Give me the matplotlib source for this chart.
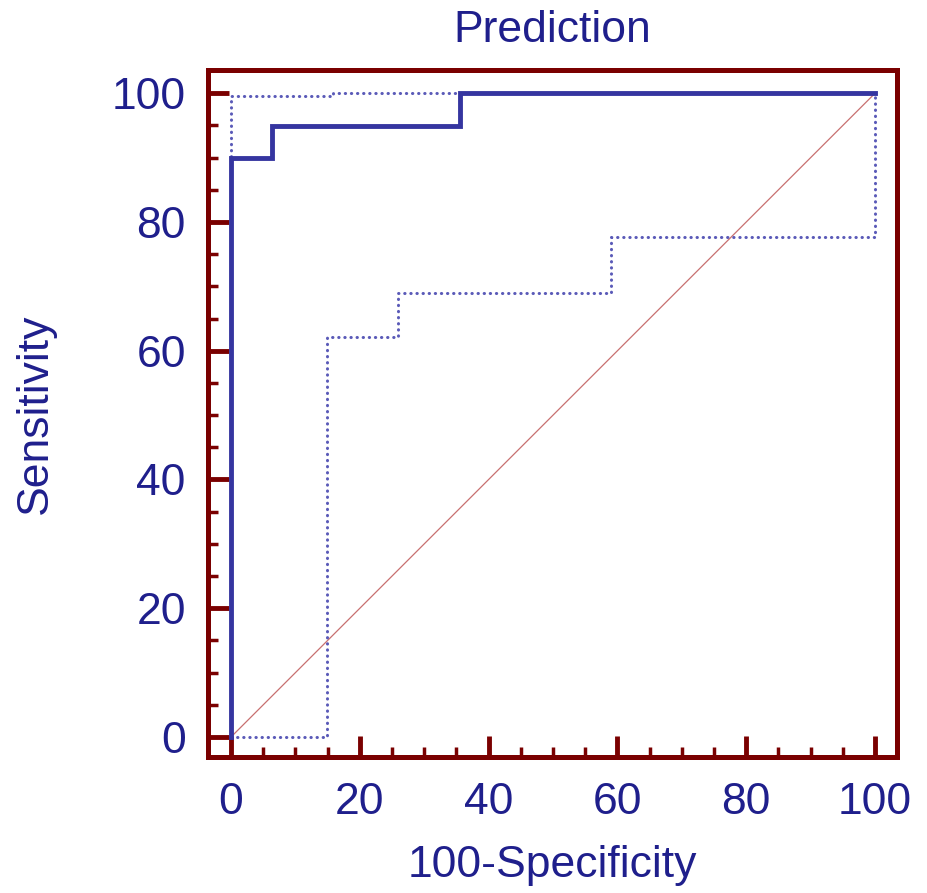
import numpy as np
import matplotlib
matplotlib.use("Agg")
import matplotlib.pyplot as plt
from matplotlib.ticker import MultipleLocator

plt.rcParams['font.family'] = ['Liberation Sans', 'DejaVu Sans']

# ROC curve (100-specificity, sensitivity)
roc_x = [0, 0, 6.3, 6.3, 35.5, 35.5, 100]
roc_y = [0, 89.9, 89.9, 94.9, 94.9, 100, 100]

# upper confidence bound
upper_x = [0, 0, 15.8, 15.8, 100]
upper_y = [0, 99.6, 99.6, 100, 100]

# lower confidence bound
lower_x = [0, 14.9, 14.9, 25.9, 25.9, 59.0, 59.0, 100, 100]
lower_y = [0, 0, 62.2, 62.2, 69.0, 69.0, 77.6, 77.6, 100]

frame_col = '#7a0000'
text_col = '#1f1f8c'
line_col = '#3535a0'
fs = 32

fig = plt.figure(figsize=(9.28, 8.93), dpi=100)
ax = fig.add_axes([208/928, 1 - 757/893, (897-208)/928, (757-70)/893])

ax.plot([0, 100], [0, 100], color='#c87070', linewidth=0.9)
ax.plot(upper_x, upper_y, color='#5a5ab8', linewidth=2.2, linestyle=(0, (0.1, 1.9)),
        dash_capstyle='round')
ax.plot(lower_x, lower_y, color='#5a5ab8', linewidth=2.2, linestyle=(0, (0.1, 1.9)),
        dash_capstyle='round')
ax.plot(roc_x, roc_y, color=line_col, linewidth=3.5, solid_joinstyle='miter')

ax.set_xlim(-3.57, 103.4)
ax.set_ylim(-3.1, 103.6)

for s in ax.spines.values():
    s.set_color(frame_col)
    s.set_linewidth(3.6)

ax.xaxis.set_major_locator(MultipleLocator(20))
ax.xaxis.set_minor_locator(MultipleLocator(5))
ax.yaxis.set_major_locator(MultipleLocator(20))
ax.yaxis.set_minor_locator(MultipleLocator(5))
ax.tick_params(which='major', direction='in', length=15, width=3.5, color=frame_col,
               labelsize=fs, labelcolor=text_col)
ax.tick_params(which='minor', direction='in', length=7.5, width=2.5, color=frame_col)
ax.tick_params(axis='x', pad=18)
ax.tick_params(axis='y', pad=16)

ax.set_xlabel('100-Specificity', fontsize=fs, color=text_col, labelpad=16)
ax.set_ylabel('Sensitivity', fontsize=fs, color=text_col, labelpad=40)
ax.set_title('Prediction', fontsize=fs, color=text_col, pad=20)

fig.savefig('out.png', dpi=100)
